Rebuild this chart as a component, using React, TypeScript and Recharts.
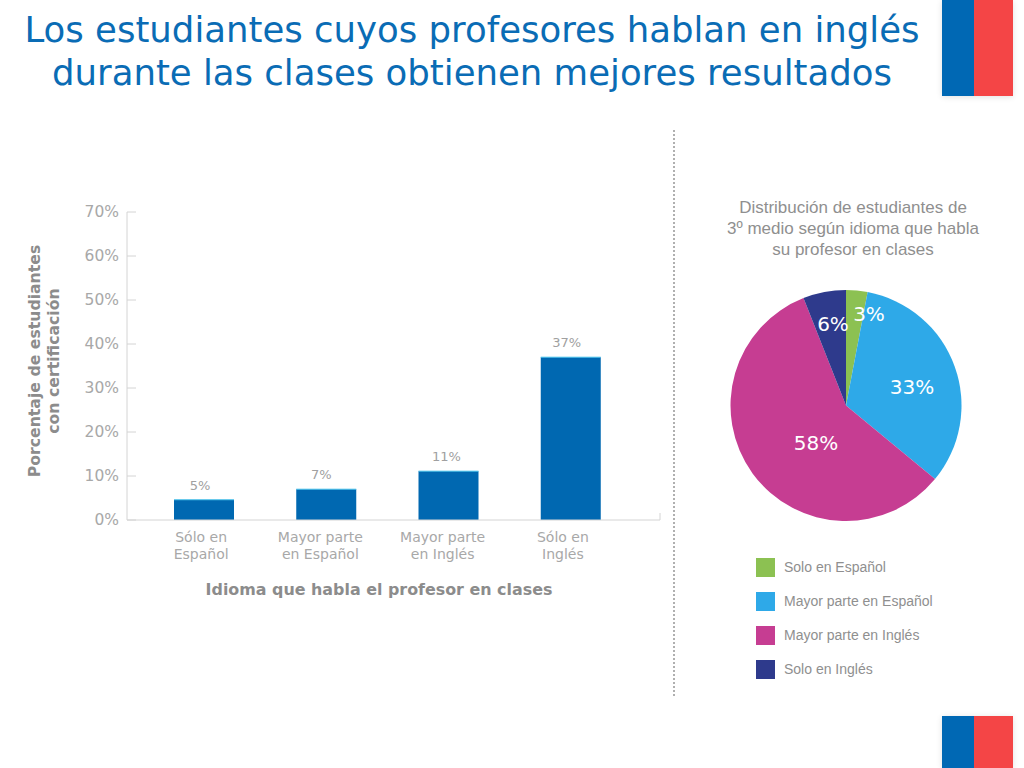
import React from "react";
import { BarChart, Bar, XAxis, YAxis, LabelList, Label, PieChart, Pie, Cell } from "recharts";

const titleLines = [
  "Los estudiantes cuyos profesores hablan en inglés",
  "durante las clases obtienen mejores resultados",
];
const barCategories = ["Sólo en|Español", "Mayor parte|en Español", "Mayor parte|en Inglés", "Sólo en|Inglés"];
const barValues = [4.6, 7, 11.1, 37];
const barLabels = ["5%", "7%", "11%", "37%"];
const yTicks = [0, 10, 20, 30, 40, 50, 60, 70];

const pieTitle = ["Distribución de estudiantes de", "3º medio según idioma que habla", "su profesor en clases"];
const pieNames = ["Solo en Español", "Mayor parte en Español", "Mayor parte en Inglés", "Solo en Inglés"];
const pieValues = [3, 33, 58, 6];
const pieColors = ["#8cc152", "#2ea9e8", "#c63d92", "#2e3a8c"];

const barRows = barCategories.map((c, i) => ({ name: c, value: barValues[i], label: barLabels[i] }));
const pieRows = pieNames.map((n, i) => ({ name: n, value: pieValues[i] }));

const SANS = "'DejaVu Sans', sans-serif";
const tickShift = [-3, -6, -6, -8];
const valueShift = [-4, -5, -2, -4];
const pieLabelOffsets = [
  [23, -92],
  [66, -19],
  [-30, 37],
  [-13, -82],
];

const XTick = (props: any) => {
  const { x, payload, index } = props;
  const parts = String(payload.value).split("|");
  return (
    <g>
      {parts.map((p: string, i: number) => (
        <text key={i} x={x + tickShift[index]} y={542 + i * 17} textAnchor="middle" fontFamily={SANS} fontSize={14} fill="#a8a8a8">
          {p}
        </text>
      ))}
    </g>
  );
};

const YTick = (props: any) => {
  const { x, y, payload } = props;
  return (
    <g>
      <line x1={x} x2={x + 9} y1={y} y2={y} stroke="#d4d4d4" strokeWidth={1} />
      <text x={x - 8} y={y + 5} textAnchor="end" fontFamily={SANS} fontSize={15.5} fill="#a8a8a8">
        {payload.value}%
      </text>
    </g>
  );
};

const BarShape = (props: any) => {
  const { x, y, width, height } = props;
  return (
    <g>
      <rect x={x} y={y} width={width} height={height} fill="#0068b1" />
      <line x1={x} x2={x + width} y1={y} y2={y} stroke="#4cc4ec" strokeWidth={1} />
    </g>
  );
};

const ValueLabel = (props: any) => {
  const { x, y, width, index } = props;
  return (
    <text x={x + width / 2 + valueShift[index]} y={y - 10} textAnchor="middle" fontFamily={SANS} fontSize={13} fill="#a0a0a0">
      {barLabels[index]}
    </text>
  );
};

const XTitle = () => (
  <g>
    <line x1={660} x2={660} y1={513} y2={520} stroke="#d4d4d4" />
    <text x={379} y={595} textAnchor="middle" fontFamily={SANS} fontWeight="bold" fontSize={15.9} fill="#8c8c8c">
      Idioma que habla el profesor en clases
    </text>
  </g>
);

const YTitle = () => (
  <g fontFamily={SANS} fontWeight="bold" fontSize={15.7} fill="#8c8c8c" textAnchor="middle">
    <text transform="translate(40 361) rotate(-90)">Porcentaje de estudiantes</text>
    <text transform="translate(59 361) rotate(-90)">con certificación</text>
  </g>
);

const PieLabel = (props: any) => {
  const { cx, cy, index } = props;
  const [dx, dy] = pieLabelOffsets[index];
  return (
    <text x={cx + dx} y={cy + dy + 7} textAnchor="middle" fontFamily={SANS} fontSize={20} fill="#ffffff">
      {pieValues[index]}%
    </text>
  );
};

const PieLegend = () => (
  <div style={{ position: "absolute", left: 56, top: 368 }}>
    {pieNames.map((n, i) => (
      <div key={n} style={{ display: "flex", alignItems: "center", height: 19, marginBottom: 15 }}>
        <div style={{ width: 19, height: 19, background: pieColors[i], marginRight: 9 }} />
        <span style={{ fontFamily: "'Liberation Sans', sans-serif", fontSize: 14, lineHeight: "17px", color: "#8f8f8f" }}>{n}</span>
      </div>
    ))}
  </div>
);

const Flag = ({ top, height }: { top: number; height: number }) => (
  <div style={{ position: "absolute", left: 942, top, width: 71, height, display: "flex", boxShadow: "0 1px 6px rgba(0,0,0,0.12)" }}>
    <div style={{ width: 32, background: "#0068b4" }} />
    <div style={{ width: 39, background: "#f44546" }} />
  </div>
);

export default function App() {
  return (
    <div style={{ position: "absolute", left: 0, top: 0, width: 1024, height: 768, background: "#fff", overflow: "hidden" }}>
      {titleLines.map((t, i) => (
        <div
          key={t}
          style={{
            position: "absolute",
            left: 0,
            width: 944,
            top: 8 + i * 43,
            textAlign: "center",
            fontFamily: SANS,
            fontSize: 35.5,
            lineHeight: "43px",
            color: "#0a6cb5",
            whiteSpace: "nowrap",
          }}
        >
          {t}
        </div>
      ))}
      <Flag top={0} height={96} />
      <Flag top={716} height={52} />
      <div style={{ position: "absolute", left: 673, top: 130, height: 566, borderLeft: "2px dotted #b0b0b0" }} />

      <div style={{ position: "absolute", left: 0, top: 0 }}>
        <BarChart width={700} height={620} data={barRows} margin={{ top: 212, left: 126, right: 40, bottom: 99 }}>
          <XAxis
            dataKey="name"
            interval={0}
            padding={{ left: 16, right: 28 }}
            stroke="#d4d4d4"
            tickLine={false}
            tick={<XTick />}
            height={1}
          >
            <Label content={<XTitle />} />
          </XAxis>
          <YAxis
            width={1}
            domain={[0, 70]}
            ticks={yTicks}
            interval={0}
            stroke="#d4d4d4"
            tickLine={false}
            tickSize={0}
            tickMargin={0}
            tick={<YTick />}
          >
            <Label content={<YTitle />} />
          </YAxis>
          <Bar dataKey="value" barSize={60} shape={<BarShape />} isAnimationActive={false}>
            <LabelList dataKey="label" content={<ValueLabel />} />
          </Bar>
        </BarChart>
      </div>

      <div style={{ position: "absolute", left: 700, top: 190, width: 324, height: 500 }}>
        {pieTitle.map((t, i) => (
          <div
            key={t}
            style={{
              position: "absolute",
              left: 0,
              width: 306,
              top: 7 + i * 21,
              textAlign: "center",
              fontFamily: "'Liberation Sans', sans-serif",
              fontSize: 17,
              lineHeight: "21px",
              color: "#8f8f8f",
              whiteSpace: "nowrap",
            }}
          >
            {t}
          </div>
        ))}
        <PieChart width={324} height={500} margin={{ top: 0, left: 0, right: 0, bottom: 0 }}>
          <Pie
            data={pieRows}
            dataKey="value"
            nameKey="name"
            cx={146}
            cy={215.5}
            outerRadius={115.5}
            innerRadius={0}
            startAngle={90}
            endAngle={-270}
            stroke="none"
            label={PieLabel}
            labelLine={false}
            isAnimationActive={false}
          >
            {pieRows.map((r, i) => (
              <Cell key={r.name} fill={pieColors[i]} />
            ))}
          </Pie>
        </PieChart>
        <PieLegend />
      </div>
    </div>
  );
}
